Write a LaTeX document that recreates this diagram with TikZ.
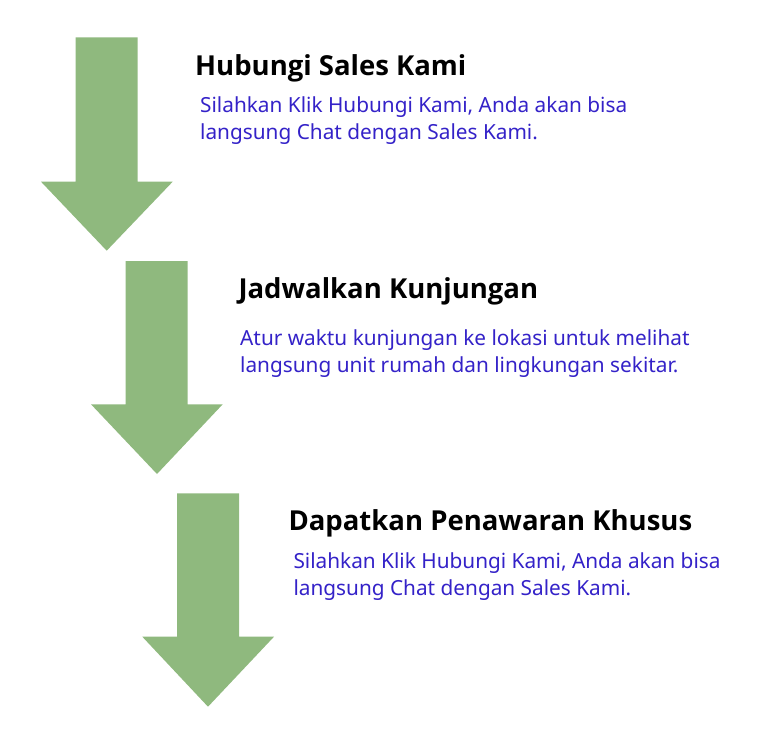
\documentclass[tikz,border=0pt]{standalone}
\usepackage{fontspec}
\usepackage{tikz}
\usetikzlibrary{positioning}

\newfontfamily\titlefont{Open Sans}
\newfontfamily\bodyfont{Noto Sans}

\definecolor{arrowgreen}{RGB}{143,185,126}
\definecolor{bodyblue}{RGB}{52,34,200}

\tikzset{
  steptitle/.style={anchor=base west, inner sep=0pt, font=\titlefont\bfseries\fontsize{27.5}{30}\selectfont},
  steptext/.style={anchor=base west, inner sep=0pt, align=left, text=bodyblue, font=\bodyfont\fontsize{20.8}{27}\selectfont}
}

\begin{document}
\begin{tikzpicture}[x=1pt, y=-1pt]

\useasboundingbox (0,0) rectangle (768,745) ;

\fill [arrowgreen] (75.7,37.3) -- (137.7,37.3) -- (137.7,181.7) -- (172.7,181.7) -- (106.7,250.7) -- (41,181.7) -- (75.7,181.7) -- cycle ;
\fill [arrowgreen] (125.7,261) -- (187.7,261) -- (187.7,404.3) -- (222.7,404.3) -- (157,474) -- (91,404.3) -- (125.7,404.3) -- cycle ;
\fill [arrowgreen] (177,493.3) -- (239,493.3) -- (239,636.7) -- (274,636.7) -- (208,706.7) -- (142.3,636.7) -- (177,636.7) -- cycle ;

% the base anchor of a two-line text sits on its last line
\node [steptitle] (hubungi) at (195,75.7) {Hubungi Sales Kami} ;
\node [steptext] (hubungitext) at (200,139) {Silahkan Klik Hubungi Kami, Anda akan bisa\\langsung Chat dengan Sales Kami.} ;

\node [steptitle] (jadwal) at (238.3,298.3) {Jadwalkan Kunjungan} ;
\node [steptext] (jadwaltext) at (240,372) {Atur waktu kunjungan ke lokasi untuk melihat\\langsung unit rumah dan lingkungan sekitar.} ;

\node [steptitle] (penawaran) at (288.3,530.7) {Dapatkan Penawaran Khusus} ;
\node [steptext] (penawarantext) at (293.3,595) {Silahkan Klik Hubungi Kami, Anda akan bisa\\langsung Chat dengan Sales Kami.} ;

\end{tikzpicture}
\end{document}
